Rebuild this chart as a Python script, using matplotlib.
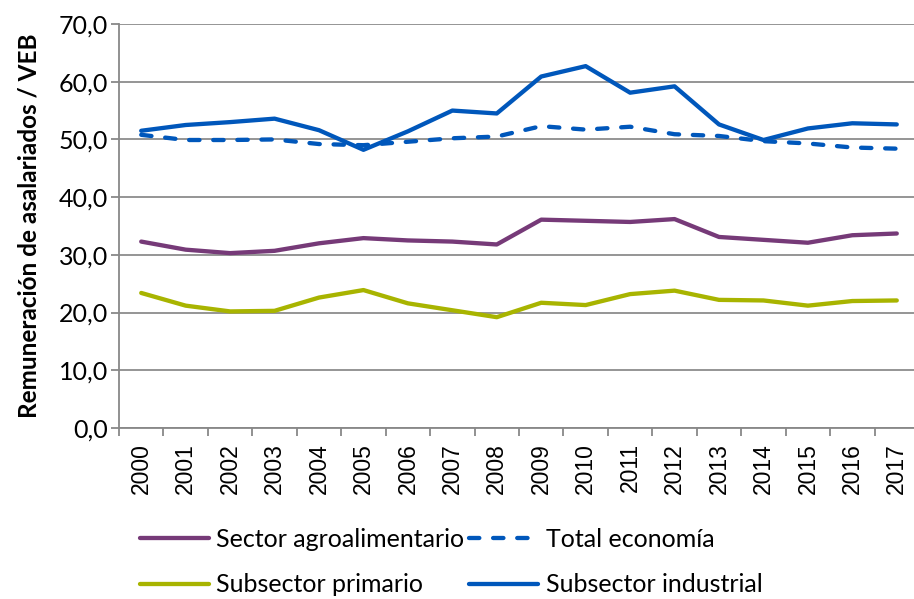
import matplotlib
matplotlib.use("Agg")
import matplotlib.pyplot as plt

years = [str(y) for y in range(2000, 2018)]
agro = [32.3, 30.9, 30.3, 30.7, 32.0, 32.9, 32.5, 32.3, 31.8, 36.1, 35.9, 35.7, 36.2, 33.1, 32.6, 32.1, 33.4, 33.7]
total = [50.8, 49.9, 49.9, 50.0, 49.2, 49.0, 49.6, 50.2, 50.5, 52.3, 51.7, 52.2, 50.9, 50.6, 49.7, 49.3, 48.6, 48.4]
primario = [23.4, 21.2, 20.2, 20.3, 22.6, 23.9, 21.6, 20.4, 19.2, 21.7, 21.3, 23.2, 23.8, 22.2, 22.1, 21.2, 22.0, 22.1]
industrial = [51.5, 52.5, 53.0, 53.6, 51.6, 48.2, 51.4, 55.0, 54.5, 60.9, 62.7, 58.1, 59.2, 52.6, 49.9, 51.9, 52.8, 52.6]
yticks = [0, 10, 20, 30, 40, 50, 60, 70]
ylabel = "Remuneración de asalariados / VEB"

W, H = 914, 599
fig = plt.figure(figsize=(W / 100, H / 100), dpi=100)
left, right, top, bottom = 119, 919, 24, 428
ax = fig.add_axes([left / W, 1 - bottom / H, (right - left) / W, (bottom - top) / H])

x = list(range(len(years)))
lw = 3.1
c_agro = "#763A78"
c_prim = "#A8B400"
c_blue = "#0057BB"
l1, = ax.plot(x, agro, color=c_agro, lw=lw, solid_capstyle="round", label="Sector agroalimentario")
l2, = ax.plot(x, total, color=c_blue, lw=lw, linestyle=(0, (2.4, 3.2)), dash_capstyle="round", label="Total economía")
l3, = ax.plot(x, primario, color=c_prim, lw=lw, solid_capstyle="round", label="Subsector primario")
l4, = ax.plot(x, industrial, color=c_blue, lw=lw, solid_capstyle="round", label="Subsector industrial")

ax.set_xlim(-0.5, len(years) - 0.5)
ax.set_ylim(0, 70)
ax.set_yticks(yticks)
ax.set_yticklabels([f"{v:.1f}".replace(".", ",") for v in yticks], fontsize=18, family="Lato")
ax.set_xticks([i - 0.5 for i in range(len(years))], minor=False)
ax.set_xticklabels([])
ax.set_xticks(x, minor=True)
ax.set_xticklabels(years, minor=True, rotation=90, fontsize=16.5, family="Liberation Sans")
ax.tick_params(axis="x", which="minor", length=0, pad=11)
ax.tick_params(axis="x", which="major", length=6, color="#888888", width=1.3)
ax.tick_params(axis="y", length=6, color="#888888", width=1.3, pad=2)
ax.grid(axis="y", color="#8c8c8c", lw=1.3)
ax.set_axisbelow(True)
for s in ["top", "right"]:
    ax.spines[s].set_visible(False)
for s in ["left", "bottom"]:
    ax.spines[s].set_color("#888888")
    ax.spines[s].set_linewidth(1.3)
ax.set_ylabel(ylabel, fontsize=17.5, fontweight="bold", family="Lato", labelpad=13)

fig.legend(handles=[l1, l3, l2, l4], loc="upper left", bbox_to_anchor=(130 / W, 1 - 518 / H),
           ncol=2, frameon=False, prop={"family": "Lato", "size": 18}, handlelength=2.75,
           handletextpad=0.3, columnspacing=0.2, labelspacing=0.9, borderaxespad=0)

fig.savefig("out.png", dpi=100)
